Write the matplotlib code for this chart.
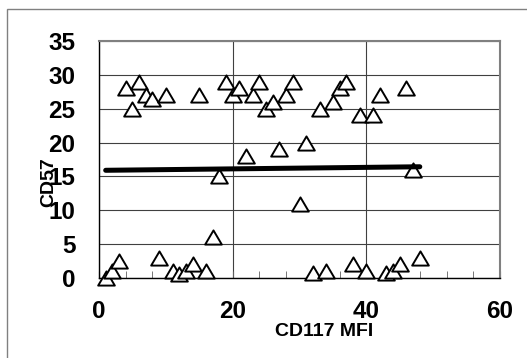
import matplotlib
matplotlib.use("Agg")
import matplotlib.pyplot as plt
from matplotlib.path import Path
from matplotlib.patches import Rectangle
from matplotlib.ticker import MultipleLocator
import numpy as np

plt.rcParams['font.family'] = ['Liberation Sans', 'DejaVu Sans']

# CD117 MFI (x) vs CD57 (y)
cd117 = list(range(1, 49))
cd57 = [0, 1, 2.5, 28, 25, 29, 27, 26.5, 3, 27,
        1, 0.6, 1, 2, 27, 1, 6, 15, 29, 27,
        28, 18, 27, 29, 25, 26, 19, 27, 29, 11,
        20, 0.7, 25, 1, 26, 28, 29, 2, 24, 1,
        24, 27, 0.7, 1, 2, 28, 16, 3]

x_ticks = [0, 20, 40, 60]
y_ticks = [0, 5, 10, 15, 20, 25, 30, 35]

fig = plt.figure(figsize=(5.27, 3.58), dpi=100)
# outer chart border (only left/top visible in the crop)
fig.patches.append(Rectangle((7 / 527, -0.1), 1.2, 1.1 - 9 / 358,
                             transform=fig.transFigure, fill=False,
                             edgecolor='#808080', linewidth=1.0))

ax = fig.add_axes([99 / 527, (358 - 278) / 358, 401 / 527, 237 / 358])

# open triangle marker, a bit wider than tall like Excel's
tri = Path([(0, 0.85), (-1, -0.85), (1, -0.85), (0, 0.85)],
           [Path.MOVETO, Path.LINETO, Path.LINETO, Path.CLOSEPOLY])
ax.plot(cd117, cd57, linestyle='none', marker=tri, markersize=12,
        markerfacecolor='white', markeredgecolor='black',
        markeredgewidth=1.4, clip_on=False, zorder=3)

# linear trendline
k, b = np.polyfit(cd117, cd57, 1)
xs = np.array([min(cd117), max(cd117)])
ax.plot(xs, k * xs + b, color='black', linewidth=3.6,
        solid_capstyle='round', zorder=4)

ax.set_xlim(0, 60)
ax.set_ylim(0, 35)
ax.set_xticks(x_ticks)
ax.set_yticks(y_ticks)
ax.xaxis.set_minor_locator(MultipleLocator(4))
ax.grid(True, which='major', color='#404040', linewidth=0.8)
ax.set_axisbelow(True)

ax.tick_params(axis='x', which='both', direction='in', length=5,
               color='#606060', pad=15.5, labelsize=17.5)
ax.tick_params(axis='y', which='both', length=0, pad=17, labelsize=17.5)
for lab in ax.get_xticklabels() + ax.get_yticklabels():
    lab.set_fontweight('bold')

for s in ['left', 'bottom']:
    ax.spines[s].set_color('black')
    ax.spines[s].set_linewidth(1.0)
for s in ['top', 'right']:
    ax.spines[s].set_color('#808080')
    ax.spines[s].set_linewidth(1.5)

fig.text(324 / 527, 1 - 332 / 358, 'CD117 MFI', ha='center', va='center',
         fontsize=14, fontweight='bold')
fig.text(49 / 527, 1 - 182 / 358, 'CD57', ha='center', va='center',
         rotation=90, fontsize=14, fontweight='bold')

fig.savefig('out.png', dpi=100, facecolor='white')
